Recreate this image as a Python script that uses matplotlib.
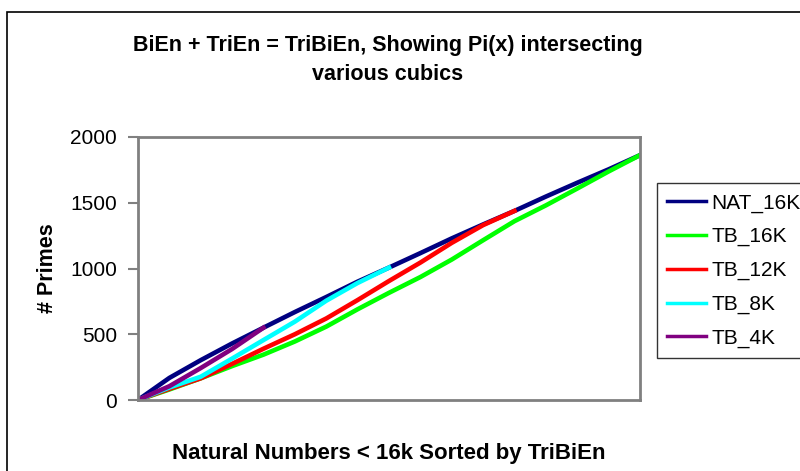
import matplotlib.pyplot as plt
from matplotlib.patches import Rectangle

plt.rcParams['font.family'] = ['Liberation Sans', 'DejaVu Sans']

n_16k = [0, 1000, 2000, 3000, 4000, 5000, 6000, 7000, 8000, 9000, 10000,
         11000, 12000, 13000, 14000, 15000, 16000]
nat_16k = [0, 168, 303, 430, 550, 669, 783, 900, 1007, 1117, 1229,
           1335, 1438, 1547, 1652, 1754, 1862]
tb_16k = [0, 80, 165, 258, 345, 445, 558, 690, 815, 935, 1068,
          1215, 1360, 1480, 1608, 1738, 1862]

n_12k = [0, 1000, 2000, 3000, 4000, 5000, 6000, 7000, 8000, 9000, 10000, 11000, 12000]
tb_12k = [0, 85, 165, 275, 390, 500, 620, 760, 905, 1045, 1195, 1330, 1438]

n_8k = [0, 1000, 2000, 3000, 4000, 5000, 6000, 7000, 8000]
tb_8k = [0, 95, 177, 315, 456, 596, 755, 890, 1007]

n_4k = [0, 1000, 2000, 3000, 4000]
tb_4k = [0, 105, 243, 388, 550]

y_ticks = [0, 500, 1000, 1500, 2000]

fig = plt.figure(figsize=(8, 4.71), dpi=100)
fig.patches.append(Rectangle((7/800, -0.1), 1.1, (471-12)/471 + 0.1, transform=fig.transFigure,
                             fill=False, edgecolor='black', linewidth=1.2))

ax = fig.add_axes([138/800, 71/471, 502/800, 263/471])
ax.plot(n_16k, nat_16k, color='#000080', lw=3.3, label='NAT_16K')
ax.plot(n_16k, tb_16k, color='#00FF00', lw=3.3, label='TB_16K')
ax.plot(n_12k, tb_12k, color='#FF0000', lw=3.3, label='TB_12K')
ax.plot(n_8k, tb_8k, color='#00FFFF', lw=3.3, label='TB_8K')
ax.plot(n_4k, tb_4k, color='#800080', lw=3.3, label='TB_4K')

ax.set_xlim(0, 16000)
ax.set_ylim(0, 2000)
ax.set_xticks([])
ax.set_yticks(y_ticks)
ax.tick_params(axis='y', direction='out', length=7, width=1.5, color='#808080',
               labelsize=15, pad=8)
for s in ax.spines.values():
    s.set_color('#808080')
    s.set_linewidth(2)

ax.set_ylabel('# Primes', fontsize=15.5, fontweight='bold', labelpad=9)
ax.set_xlabel('Natural Numbers < 16k Sorted by TriBiEn', fontsize=16, fontweight='bold', labelpad=31)

fig.text(388/800, 1 - 60/471, 'BiEn + TriEn = TriBiEn, Showing Pi(x) intersecting\nvarious cubics',
         ha='center', va='center', fontsize=15.5, fontweight='bold', linespacing=1.55)

leg = fig.legend(loc='upper left', bbox_to_anchor=(657/800, 1 - 183/471), fontsize=15,
                 frameon=True, fancybox=False, edgecolor='black', borderpad=0.5,
                 handlelength=1.85, handletextpad=0.25, labelspacing=0.7, borderaxespad=0)
leg.get_frame().set_linewidth(1.0)
for line in leg.get_lines():
    line.set_linewidth(2.5)

fig.savefig('out.png', dpi=100)
